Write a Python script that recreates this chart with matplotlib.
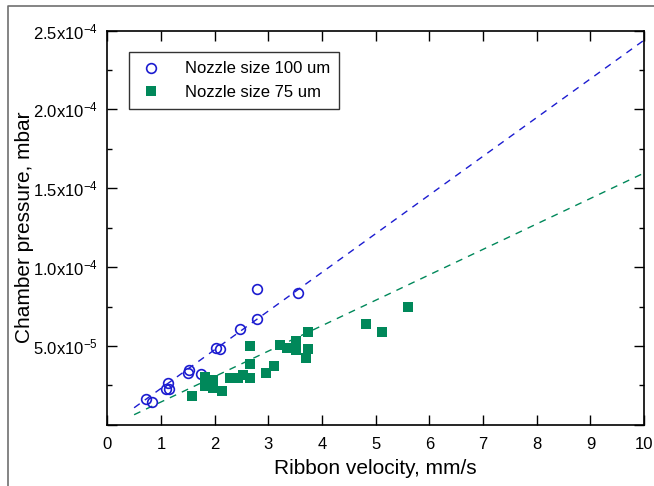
import numpy as np
import matplotlib
matplotlib.use('Agg')
import matplotlib.pyplot as plt
from matplotlib.ticker import FixedLocator, FuncFormatter
from matplotlib.lines import Line2D

plt.rcParams['font.family'] = ['Liberation Sans', 'DejaVu Sans']
plt.rcParams['mathtext.fontset'] = 'custom'
plt.rcParams['mathtext.rm'] = 'Liberation Sans'
plt.rcParams['mathtext.default'] = 'regular'

# Nozzle size 100 um (open circles)
v100 = [0.72, 0.84, 1.09, 1.13, 1.15, 1.50, 1.52, 1.75, 2.02, 2.10, 2.47, 2.78, 2.78, 3.55]
p100 = [1.63e-5, 1.42e-5, 2.28e-5, 2.63e-5, 2.25e-5, 3.26e-5, 3.47e-5, 3.22e-5,
        4.87e-5, 4.82e-5, 6.05e-5, 6.69e-5, 8.59e-5, 8.38e-5]

# Nozzle size 75 um (filled squares)
v75 = [1.58, 1.82, 1.82, 1.90, 1.97, 1.97, 2.13, 2.29, 2.44, 2.53, 2.65, 2.65, 2.65,
       2.95, 3.10, 3.22, 3.35, 3.51, 3.51, 3.73, 3.73, 3.71, 4.81, 5.12, 5.61]
p75 = [1.82e-5, 3.03e-5, 2.45e-5, 2.63e-5, 2.84e-5, 2.33e-5, 2.14e-5, 2.98e-5, 2.98e-5,
       3.15e-5, 2.94e-5, 3.85e-5, 4.99e-5, 3.26e-5, 3.72e-5, 5.06e-5, 4.85e-5, 5.33e-5,
       4.74e-5, 5.86e-5, 4.78e-5, 4.21e-5, 6.37e-5, 5.86e-5, 7.45e-5]

# dashed linear fits: slope, intercept
fit100 = (2.455e-5, -0.15e-5)
fit75 = (1.614e-5, -0.17e-5)
fit_range = [0.5, 10]

blue = '#1c1cd0'
green = '#00885a'

fig = plt.figure(figsize=(6.54, 4.86), dpi=100)
ax = fig.add_axes([0.164, 0.126, 0.821, 0.811])

xf = np.array(fit_range)
ax.plot(xf, fit100[0]*xf + fit100[1], color=blue, lw=1.0, ls=(0, (5, 4.5)))
ax.plot(xf, fit75[0]*xf + fit75[1], color=green, lw=1.0, ls=(0, (5, 4.5)))

ax.plot(v100, p100, 'o', mfc='none', mec=blue, mew=1.2, ms=7, label='Nozzle size 100 um')
ax.plot(v75, p75, 's', color=green, mew=0, ms=7.5, label='Nozzle size 75 um')

ax.set_xlim(0, 10)
ax.set_ylim(0, 2.5e-4)
ax.xaxis.set_major_locator(FixedLocator(np.arange(0, 11)))
ax.yaxis.set_major_locator(FixedLocator(np.arange(0, 2.6e-4, 5e-5)))
ax.yaxis.set_minor_locator(FixedLocator(np.arange(2.5e-5, 2.5e-4, 5e-5)))

def yfmt(v, pos):
    if v == 0:
        return ''
    e = int(np.floor(np.log10(v) + 1e-9))
    return '%.1fx10$^{%d}$' % (v / 10**e, e)

ax.yaxis.set_major_formatter(FuncFormatter(yfmt))
ax.tick_params(which='both', direction='in', top=True, right=True, labelsize=12, width=1)
ax.tick_params(which='major', length=7)
ax.tick_params(which='minor', length=3.5)
ax.tick_params(axis='x', pad=9)
ax.tick_params(axis='y', pad=7)
for s in ax.spines.values():
    s.set_linewidth(1.2)

ax.set_xlabel('Ribbon velocity, mm/s', fontsize=15, labelpad=5)
ax.set_ylabel('Chamber pressure, mbar', fontsize=15, labelpad=-1)

leg = ax.legend(loc='upper left', bbox_to_anchor=(0.040, 0.945), borderaxespad=0,
                fontsize=12, frameon=True, fancybox=False, handletextpad=1.2,
                borderpad=0.55, labelspacing=0.5, handlelength=1.6)
leg.get_frame().set_edgecolor('black')
leg.get_frame().set_linewidth(1.0)

# gray frame of the original picture
fig.add_artist(Line2D([8/654, 8/654, 1], [0, 1-6/486, 1-6/486], transform=fig.transFigure,
                      color='#707070', lw=1.2))

fig.savefig('out.png', dpi=100)
